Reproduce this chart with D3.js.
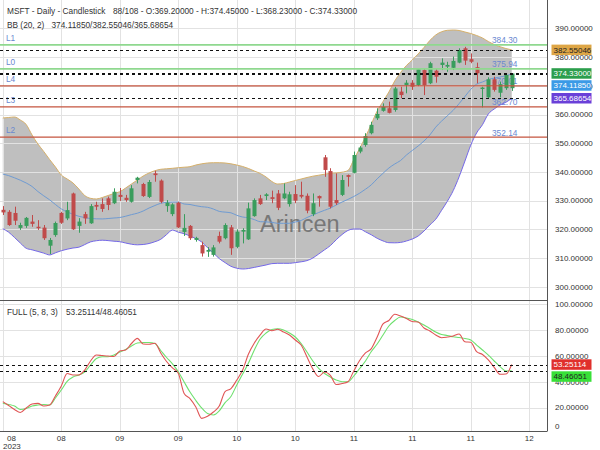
<!DOCTYPE html>
<html><head><meta charset="utf-8">
<script src="https://cdn.jsdelivr.net/npm/d3@7"></script>
<style>body{margin:0;background:#fff;}svg{display:block;font-family:"Liberation Sans",Arial,sans-serif;}</style>
</head><body><svg id="c" width="600" height="450"></svg>
<script>
// ---------- DATA ----------
const symbolTitle = "MSFT - Daily - Candlestick";
const barInfo = "88/108";
const xTickIdx = [0,10,20,30,40,50,60,70,80,90];
const xTickLabels = ["08","08","09","09","10","10","11","11","11","12"];
const yearLabel = "2023";
const priceTicks = [300,310,320,330,340,350,360,370,380,390];
const stochTicks = [0,20,40,60,80,100];

const open = [326.8,326.1,325.7,320.5,321.2,322.7,320.9,320.6,314.3,318.0,
325.7,323.8,332.5,321.2,325.3,322.1,328.5,328.8,330.8,329.1,
332.0,331.0,329.6,337.2,335.8,331.3,339.5,337.0,328.1,325.3,
329.3,319.1,321.2,316.3,314.5,312.2,311.1,317.7,316.9,320.7,
313.9,319.2,316.5,324.6,330.8,331.6,331.2,332.5,330.8,328.8,
332.3,332.0,331.7,325.3,331.6,345.1,340.3,330.2,332.0,338.9,
339.7,347.1,349.4,353.5,358.7,361.3,362.2,361.6,368.0,370.3,
371.1,370.3,375.5,370.9,375.3,377.3,376.7,376.3,378.1,383.1,
379.3,376.5,368.9,366.0,372.3,367.6,369.2,369.2];
const high = [328.1,326.7,327.9,322.3,324.3,325.0,323.2,321.5,317.0,322.7,
326.1,329.6,332.8,323.9,326.1,328.8,329.6,330.8,331.4,334.3,
334.4,332.0,335.4,338.3,336.2,337.2,340.4,337.4,330.2,329.1,
329.6,325.3,321.5,317.4,315.7,313.8,314.5,319.2,322.1,321.5,
320.0,320.4,329.3,330.8,332.0,332.6,333.5,333.7,336.0,333.1,
335.4,336.6,332.5,332.5,331.8,345.9,341.3,339.5,338.9,339.1,
347.1,349.0,353.5,357.5,362.2,363.9,364.5,369.7,369.7,372.0,
372.0,376.1,376.1,378.4,376.1,379.6,378.4,380.2,383.1,383.6,
381.3,378.1,369.7,373.0,373.2,371.5,374.4,374.45];
const low = [325.0,321.2,321.5,319.8,320.5,320.9,319.8,316.3,311.4,317.4,
321.9,323.2,319.8,318.8,321.9,321.9,326.7,326.1,326.7,328.8,
329.9,329.6,329.3,336.0,331.3,330.9,336.6,329.1,326.1,324.6,
320.4,317.7,316.3,315.7,310.5,310.4,310.5,315.1,316.5,311.1,
313.4,315.1,316.3,324.4,328.5,330.2,329.1,326.7,330.5,327.9,
329.1,330.8,325.6,324.6,327.9,338.3,327.3,328.5,331.6,334.9,
339.5,346.5,348.8,353.1,358.1,361.0,360.4,361.0,365.7,367.4,
368.6,369.9,366.8,370.6,371.1,375.5,374.9,375.5,377.9,377.3,
377.9,370.9,362.5,365.7,368.0,366.0,368.6,368.23];
const close = [325.9,321.5,323.0,321.5,324.0,321.9,320.4,316.9,316.3,322.2,
322.3,326.7,320.0,322.7,323.8,328.1,327.9,327.1,328.5,333.1,
331.3,330.2,334.3,338.0,331.6,336.5,338.9,329.6,329.3,328.7,
320.7,320.5,316.9,317.0,311.6,312.8,313.7,315.7,321.5,313.4,
319.2,319.8,327.3,330.2,328.8,332.2,330.6,327.5,332.5,332.2,
330.0,331.4,326.5,329.1,330.8,340.7,327.9,329.1,337.2,338.3,
345.9,348.5,352.5,356.4,360.2,362.7,360.6,369.1,366.8,371.1,
369.7,375.8,370.3,377.9,373.2,378.1,377.3,378.7,382.5,378.8,
378.4,374.4,369.4,372.3,368.6,370.6,373.8,374.33];

const bbUpper = [358.80,358.97,359.15,358.10,356.53,352.88,349.74,347.12,344.34,341.72,
338.93,337.54,336.15,334.05,331.79,330.81,330.57,331.09,331.79,332.49,
333.11,334.40,335.80,337.19,338.59,339.63,340.43,340.92,341.10,341.27,
341.48,341.65,341.83,342.42,342.84,343.12,343.22,343.22,343.12,342.84,
342.42,341.90,341.20,340.33,339.46,338.24,336.67,335.80,335.97,336.49,
337.02,337.54,338.06,338.52,338.86,339.21,339.53,339.66,339.91,340.50,
344.30,348.17,352.18,356.71,361.24,364.55,367.86,371.70,374.66,377.10,
379.02,381.11,383.37,385.81,387.73,388.85,389.37,389.47,389.30,388.78,
388.25,387.56,386.69,385.46,384.42,383.65,383.02,382.55046];
const bbMid = [339.28,338.72,337.96,337.12,336.15,334.93,333.18,331.68,330.29,328.65,
327.12,326.07,325.24,324.54,324.09,323.77,323.67,323.63,323.77,323.95,
324.12,324.57,325.13,325.62,326.39,327.43,328.30,329.07,329.42,329.49,
329.50,328.83,328.65,328.23,327.88,327.68,327.08,326.25,326.00,325.76,
324.89,324.29,324.01,323.39,322.66,322.59,322.45,322.10,322.10,322.10,
322.55,323.08,324.12,324.99,325.86,326.63,327.40,328.48,329.52,330.43,
331.44,332.59,333.98,335.52,337.61,339.53,341.37,342.77,343.99,345.90,
347.48,349.04,350.79,352.88,355.60,357.70,359.60,361.50,363.80,366.30,
368.80,370.60,371.35,372.22,372.74,373.09,373.54,374.11850];
const bbLower = [320.22,319.00,317.15,315.23,313.39,312.86,312.30,311.71,311.08,311.82,
312.55,313.07,313.49,313.77,314.68,315.62,316.03,316.21,316.07,315.86,
315.69,315.23,314.81,314.60,314.71,315.06,315.69,316.52,318.19,319.73,
319.00,318.47,317.67,316.77,315.58,313.59,311.75,309.81,308.40,307.11,
306.45,306.17,306.34,306.73,307.15,307.57,308.05,308.16,308.16,308.16,
308.40,308.68,309.10,310.00,311.40,312.86,314.33,316.38,318.19,319.62,
320.11,320.11,319.14,318.09,316.87,315.96,315.34,315.30,315.44,315.93,
316.63,317.67,319.41,321.51,323.50,326.60,329.80,333.50,338.30,343.80,
349.35,353.60,356.47,360.20,361.94,363.33,364.27,365.68654];

const stochK = [24.6,21.6,18.5,16.2,19.7,22.8,23.3,21.2,22.0,29.0,
36.7,46.3,45.2,45.2,49.0,56.0,60.6,60.2,59.8,59.5,
63.7,64.5,69.5,73.5,69.1,68.9,69.7,62.2,55.6,50.6,
46.5,30.9,27.0,20.5,11.7,13.3,16.6,21.2,32.4,34.7,
41.3,49.0,61.4,69.9,76.1,80.7,79.4,80.5,78.4,76.1,
72.2,68.3,59.1,49.8,44.0,47.5,44.8,37.8,38.6,40.0,
48.3,56.4,62.2,65.6,74.5,84.6,87.3,92.1,90.7,88.8,
86.5,86.1,81.5,79.2,76.1,74.0,74.5,75.3,76.8,70.9,
70.5,63.2,61.0,56.8,51.1,45.7,45.9,53.25114];
const stochD = [23.3,22.4,21.2,18.5,19.3,21.2,22.0,22.4,22.0,27.4,
33.6,40.2,43.6,45.2,47.5,52.9,57.9,59.3,59.3,60.6,
62.9,64.9,67.6,69.9,70.3,70.3,69.5,64.1,58.7,53.7,
47.7,39.8,32.0,25.5,19.7,15.4,14.3,17.4,23.9,28.6,
37.5,45.9,54.4,64.5,73.0,77.6,80.3,80.9,79.9,77.6,
74.5,69.5,62.9,56.0,50.2,46.3,43.6,41.3,40.0,40.0,
44.4,50.2,56.0,63.3,69.1,76.1,83.0,87.3,90.0,89.2,
88.0,86.1,83.8,81.1,78.4,76.4,75.7,74.7,74.1,73.4,
72.2,68.3,64.5,60.6,56.0,51.7,48.3,48.46051];

const levelNames = ["L1","L0","L4","L3","L2"];
const levelValues = [384.30,375.94,370.01,362.70,352.14];
const levelKinds = ["up","up","down","down","down"];

// ---------- CHART ----------
const plotR = 547, mainTop = 0, mainBot = 300, stTop = 300, stBot = 431;
const n = close.length, last = n - 1;
const svg = d3.select("#c");
const x = d3.scaleLinear().domain([-0.479, 93.03]).range([0, plotR]);
const yP = d3.scaleLinear().domain([295.37, 399.93]).range([mainBot, mainTop]);
const yS = d3.scaleLinear().domain([1.93, 103.1]).range([stBot, stTop]);
const idx = d3.range(n);
const FS = 8.3;
const C = {green:"#3a9d5d", red:"#c04a4a", grid:"#e2e2e2", lvlUp:"#8fd88f", lvlDn:"#c5553f",
  lvlTxt:"#6a88d0", bbUp:"#d6b06a", bbLo:"#7468e8", bbMid:"#6f9bd2", fill:"#bfbfbf"};

const defs = svg.append("defs");
defs.append("clipPath").attr("id","cm").append("rect").attr("x",0).attr("y",mainTop).attr("width",plotR).attr("height",mainBot-mainTop);
defs.append("clipPath").attr("id","cs").append("rect").attr("x",0).attr("y",stTop).attr("width",plotR).attr("height",stBot-stTop);

const main = svg.append("g").attr("clip-path","url(#cm)");
const stp = svg.append("g").attr("clip-path","url(#cs)");

// BB fill
main.append("path").datum(idx)
  .attr("d", d3.area().x(i=>x(i)).y0(i=>yP(bbLower[i])).y1(i=>yP(bbUpper[i])).curve(d3.curveMonotoneX))
  .attr("fill", C.fill);

// grid
[main, stp].forEach((g,k)=>{
  g.selectAll(".vg").data(xTickIdx).join("line")
    .attr("x1",d=>Math.round(x(d))+0.5).attr("x2",d=>Math.round(x(d))+0.5)
    .attr("y1",k?stTop:mainTop).attr("y2",k?stBot:mainBot)
    .attr("stroke",C.grid).attr("stroke-width",1);
});
main.selectAll(".hg").data(priceTicks).join("line")
  .attr("x1",0).attr("x2",plotR).attr("y1",d=>Math.round(yP(d))+0.5).attr("y2",d=>Math.round(yP(d))+0.5)
  .attr("stroke",C.grid);
stp.selectAll(".hg").data(stochTicks).join("line")
  .attr("x1",0).attr("x2",plotR).attr("y1",d=>Math.round(yS(d))+0.5).attr("y2",d=>Math.round(yS(d))+0.5)
  .attr("stroke",C.grid);

// watermark
main.append("text").attr("x",260).attr("y",232).attr("font-size",23.5).attr("fill","#666").attr("opacity",0.8).text("Arincen");

// level labels
main.selectAll(".ll").data(levelNames).join("text")
  .attr("x",6).attr("y",(d,i)=>yP(levelValues[i])-4).attr("font-size",FS).attr("fill",C.lvlTxt).text(d=>d);
main.selectAll(".lr").data(levelValues).join("text")
  .attr("x",x(85.8)).attr("text-anchor","middle").attr("y",d=>yP(d)-1.5).attr("font-size",FS).attr("fill",C.lvlTxt)
  .text(d=>d.toFixed(2));

// BB lines
const ln = (arr, sc) => d3.line().x(i=>x(i)).y(i=>sc(arr[i])).curve(d3.curveMonotoneX);
main.append("path").datum(idx).attr("d",ln(bbUpper,yP)).attr("fill","none").attr("stroke",C.bbUp).attr("stroke-width",1);
main.append("path").datum(idx).attr("d",ln(bbLower,yP)).attr("fill","none").attr("stroke",C.bbLo).attr("stroke-width",1);
main.append("path").datum(idx).attr("d",ln(bbMid,yP)).attr("fill","none").attr("stroke",C.bbMid).attr("stroke-width",1);

// candles
const cg = main.append("g");
const col = i => close[i] >= open[i] ? C.green : C.red;
cg.selectAll(".w").data(idx).join("line")
  .attr("x1",i=>Math.round(x(i))+0.5).attr("x2",i=>Math.round(x(i))+0.5)
  .attr("y1",i=>yP(high[i])).attr("y2",i=>yP(low[i])).attr("stroke",col).attr("stroke-width",1);
cg.selectAll(".b").data(idx).join("rect")
  .attr("x",i=>Math.round(x(i))-1.5).attr("width",4)
  .attr("y",i=>yP(Math.max(open[i],close[i])))
  .attr("height",i=>Math.max(1, Math.abs(yP(open[i])-yP(close[i]))))
  .attr("fill",col);

// level lines
main.selectAll(".lv").data(levelValues).join("line")
  .attr("x1",0).attr("x2",plotR).attr("y1",d=>yP(d)).attr("y2",d=>yP(d))
  .attr("stroke",(d,i)=>levelKinds[i]==="up"?C.lvlUp:C.lvlDn).attr("stroke-width",(d,i)=>levelKinds[i]==="up"?1.6:1.2);
// dashed current-value lines
const dashMain = [bbUpper[last], close[last], bbMid[last], bbLower[last]];
main.selectAll(".dl").data(dashMain).join("line")
  .attr("x1",0).attr("x2",plotR).attr("y1",d=>Math.round(yP(d))+0.5).attr("y2",d=>Math.round(yP(d))+0.5)
  .attr("stroke","#111").attr("stroke-width",1).attr("stroke-dasharray","3,3");

// stochastic
stp.append("path").datum(idx).attr("d",ln(stochD,yS)).attr("fill","none").attr("stroke","#6ee06e").attr("stroke-width",1.1);
stp.append("path").datum(idx).attr("d",ln(stochK,yS)).attr("fill","none").attr("stroke","#e05555").attr("stroke-width",1.1);
stp.selectAll(".dl").data([stochK[last], stochD[last]]).join("line")
  .attr("x1",0).attr("x2",plotR).attr("y1",d=>Math.round(yS(d))+0.5).attr("y2",d=>Math.round(yS(d))+0.5)
  .attr("stroke","#111").attr("stroke-dasharray","3,3");

// frame lines
svg.append("line").attr("x1",plotR+0.5).attr("x2",plotR+0.5).attr("y1",0).attr("y2",stBot+0.5).attr("stroke","#555");
svg.append("line").attr("x1",0).attr("x2",plotR).attr("y1",stTop+0.5).attr("y2",stTop+0.5).attr("stroke","#555");
svg.append("line").attr("x1",0).attr("x2",plotR).attr("y1",stBot+0.5).attr("y2",stBot+0.5).attr("stroke","#555");

// right axis labels
svg.selectAll(".pa").data(priceTicks).join("text")
  .attr("x",555).attr("y",d=>yP(d)).attr("dy","0.35em").attr("font-size",8).attr("fill","#333")
  .text(d=>d3.format(".5f")(d));
svg.selectAll(".sa").data(stochTicks).join("text")
  .attr("x",555).attr("y",d=>Math.min(yS(d),426)).attr("dy","0.35em").attr("font-size",8).attr("fill","#333")
  .text(d=>d===0?"0":d3.format(".5f")(d));

// value boxes
function boxes(items, sc){
  const bh = 10.5, gap = 1.5;
  let prevBottom = -Infinity;
  items.sort((a,b)=>sc(a.v)-sc(b.v)).forEach(it=>{
    let cy = sc(it.v);
    if (cy - bh/2 < prevBottom + gap) cy = prevBottom + gap + bh/2;
    prevBottom = cy + bh/2;
    svg.append("rect").attr("x",551.5).attr("y",cy-bh/2).attr("width",40).attr("height",bh).attr("fill",it.bg);
    svg.append("text").attr("x",553.5).attr("y",cy).attr("dy","0.35em").attr("font-size",8).attr("fill",it.fg).text(it.v.toFixed(5));
  });
}
boxes([{v:bbUpper[last],bg:"#dea646",fg:"#222"},{v:close[last],bg:"#2c9e4c",fg:"#fff"},
       {v:bbMid[last],bg:"#3b9ae6",fg:"#fff"},{v:bbLower[last],bg:"#6a40d8",fg:"#fff"}], yP);
boxes([{v:stochK[last],bg:"#e0302c",fg:"#fff"},{v:stochD[last],bg:"#38e038",fg:"#222"}], yS);

// x axis labels
svg.selectAll(".xl").data(xTickIdx).join("text")
  .attr("x",(d,i)=>i===0?7:x(d)).attr("text-anchor",(d,i)=>i===0?"start":"middle")
  .attr("y",441).attr("font-size",8).attr("fill","#333").text((d,i)=>xTickLabels[i]);
svg.append("text").attr("x",3).attr("y",449).attr("font-size",8).attr("fill","#333").text(yearLabel);

// headers
const f5 = d3.format(".5f");
svg.append("text").attr("x",7).attr("y",13.5).attr("font-size",FS).attr("fill","#333").text(symbolTitle);
svg.append("text").attr("x",113).attr("y",13.5).attr("font-size",FS).attr("fill","#333")
  .text(`${barInfo} - O:${f5(open[last])} - H:${f5(high[last])} - L:${f5(low[last])} - C:${f5(close[last])}`);
svg.append("text").attr("x",7).attr("y",28).attr("font-size",FS).attr("fill","#333").text("BB (20, 2)");
svg.append("text").attr("x",51.5).attr("y",28).attr("font-size",FS).attr("fill","#333")
  .text(`${f5(bbMid[last])}/${f5(bbUpper[last])}/${f5(bbLower[last])}`);
svg.append("text").attr("x",7).attr("y",314.5).attr("font-size",FS).attr("fill","#333").text("FULL (5, 8, 3)");
svg.append("text").attr("x",66).attr("y",314.5).attr("font-size",FS).attr("fill","#333")
  .text(`${f5(stochK[last])}/${f5(stochD[last])}`);
</script></body></html>
